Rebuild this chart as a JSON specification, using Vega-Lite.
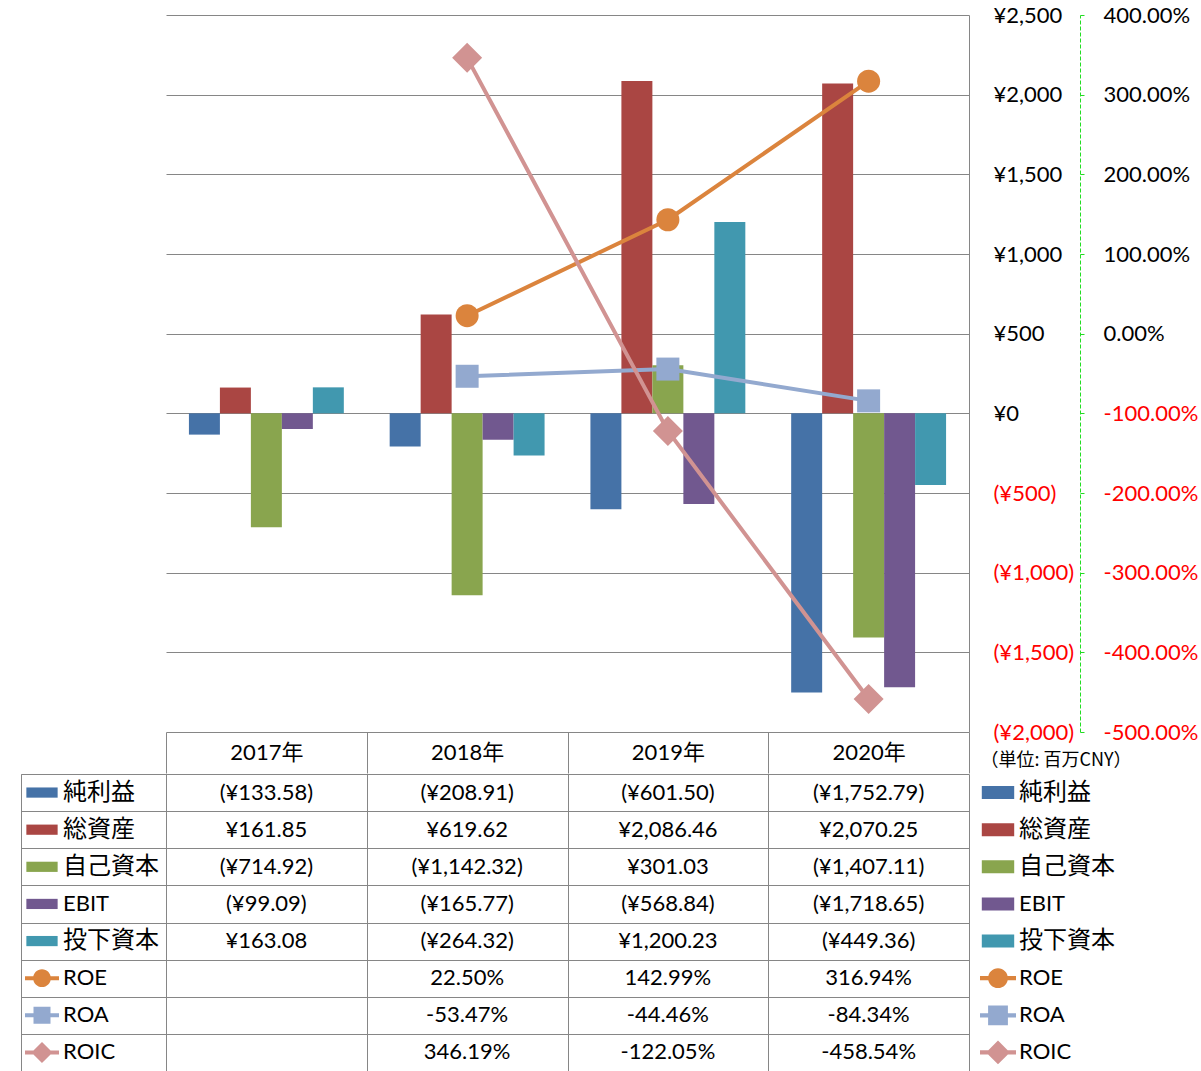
{
  "$schema": "https://vega.github.io/schema/vega-lite/v6.json",
  "padding": {"left": 20, "top": 4, "right": 0, "bottom": 0},
  "background": "white",
  "config": {"view": {"stroke": null}},
  "datasets": {
    "bars": [
      {"year": "2017年", "series": "純利益", "value": -133.58},
      {"year": "2018年", "series": "純利益", "value": -208.91},
      {"year": "2019年", "series": "純利益", "value": -601.50},
      {"year": "2020年", "series": "純利益", "value": -1752.79},
      {"year": "2017年", "series": "総資産", "value": 161.85},
      {"year": "2018年", "series": "総資産", "value": 619.62},
      {"year": "2019年", "series": "総資産", "value": 2086.46},
      {"year": "2020年", "series": "総資産", "value": 2070.25},
      {"year": "2017年", "series": "自己資本", "value": -714.92},
      {"year": "2018年", "series": "自己資本", "value": -1142.32},
      {"year": "2019年", "series": "自己資本", "value": 301.03},
      {"year": "2020年", "series": "自己資本", "value": -1407.11},
      {"year": "2017年", "series": "EBIT", "value": -99.09},
      {"year": "2018年", "series": "EBIT", "value": -165.77},
      {"year": "2019年", "series": "EBIT", "value": -568.84},
      {"year": "2020年", "series": "EBIT", "value": -1718.65},
      {"year": "2017年", "series": "投下資本", "value": 163.08},
      {"year": "2018年", "series": "投下資本", "value": -264.32},
      {"year": "2019年", "series": "投下資本", "value": 1200.23},
      {"year": "2020年", "series": "投下資本", "value": -449.36}
    ],
    "ratios": [
      {"year": "2018年", "series": "ROE", "value": 0.2250},
      {"year": "2019年", "series": "ROE", "value": 1.4299},
      {"year": "2020年", "series": "ROE", "value": 3.1694},
      {"year": "2018年", "series": "ROA", "value": -0.5347},
      {"year": "2019年", "series": "ROA", "value": -0.4446},
      {"year": "2020年", "series": "ROA", "value": -0.8434},
      {"year": "2018年", "series": "ROIC", "value": 3.4619},
      {"year": "2019年", "series": "ROIC", "value": -1.2205},
      {"year": "2020年", "series": "ROIC", "value": -4.5854}
    ],
    "series": [
      {"series": "純利益"}, {"series": "総資産"}, {"series": "自己資本"}, {"series": "EBIT"},
      {"series": "投下資本"}, {"series": "ROE"}, {"series": "ROA"}, {"series": "ROIC"}
    ]
  },
  "spacing": -2,
  "bounds": "full",
  "resolve": {"scale": {"x": "independent", "y": "independent", "shape": "independent", "size": "independent", "color": "independent"}},
  "vconcat": [
    {
      "spacing": 0,
      "bounds": "flush",
      "resolve": {"scale": {"x": "independent", "y": "independent", "shape": "independent", "size": "independent", "color": "independent"}},
      "hconcat": [
        {
          "width": 145, "height": 717,
          "data": {"values": [{"a": 1}]},
          "mark": {"type": "point", "opacity": 0},
          "encoding": {}
        },
        {
          "width": 803, "height": 717,
          "layer": [
            {
              "data": {"name": "bars"},
              "mark": {"type": "bar"},
              "encoding": {
                "x": {"field": "year", "type": "nominal",
                  "scale": {"type": "band", "domain": ["2017年", "2018年", "2019年", "2020年"], "paddingInner": 0, "paddingOuter": 0},
                  "axis": {"title": null, "orient": "bottom", "domain": false, "grid": false, "ticks": true, "tickBand": "extent", "tickSize": 41, "tickColor": "#868686", "tickWidth": 1, "labelAngle": 0, "labelPadding": -21, "labelBaseline": "middle", "labelFontSize": 22, "labelColor": "#000000", "labelFont": "Lato, 'Noto Sans CJK JP'"}},
                "xOffset": {"field": "series", "type": "nominal",
                  "scale": {"domain": ["純利益", "総資産", "自己資本", "EBIT", "投下資本"], "paddingInner": 0, "paddingOuter": 0.74}},
                "y": {"field": "value", "type": "quantitative",
                  "scale": {"domain": [-2000, 2500], "nice": false, "zero": false},
                  "axis": {"orient": "right", "title": null, "values": [-2000, -1500, -1000, -500, 0, 500, 1000, 1500, 2000, 2500],
                    "grid": true, "gridColor": "#868686", "gridWidth": 1, "ticks": false, "tickSize": 0,
                    "domain": true, "domainColor": "#868686", "domainWidth": 1,
                    "labelAlign": "left", "labelBaseline": "middle", "labelPadding": 24, "labelFontSize": 22, "labelFont": "Lato",
                    "labelExpr": "datum.value < 0 ? '(¥' + format(-datum.value, ',') + ')' : '¥' + format(datum.value, ',')",
                    "labelColor": {"condition": {"test": "datum.value < 0", "value": "#FF0000"}, "value": "#000000"},
                    "labelOverlap": false, "labelFlush": false}},
                "color": {"field": "series", "type": "nominal", "legend": null,
                  "scale": {"domain": ["純利益", "総資産", "自己資本", "EBIT", "投下資本", "ROE", "ROA", "ROIC"],
                    "range": ["#4572A7", "#AA4643", "#89A54E", "#71588F", "#4198AF", "#DB843D", "#93A9CF", "#D19392"]}}
              }
            },
            {
              "data": {"name": "ratios"},
              "encoding": {
                "x": {"field": "year", "type": "nominal",
                  "scale": {"type": "band", "domain": ["2017年", "2018年", "2019年", "2020年"], "paddingInner": 0, "paddingOuter": 0},
                  "axis": {"title": null, "orient": "bottom", "domain": false, "grid": false, "ticks": true, "tickBand": "extent", "tickSize": 41, "tickColor": "#868686", "tickWidth": 1, "labelAngle": 0, "labelPadding": -21, "labelBaseline": "middle", "labelFontSize": 22, "labelColor": "#000000", "labelFont": "Lato, 'Noto Sans CJK JP'"}},
                "y": {"field": "value", "type": "quantitative",
                  "scale": {"domain": [-5, 4], "nice": false, "zero": false},
                  "axis": {"orient": "right", "offset": 111, "title": "（単位: 百万CNY）", "titleAngle": 0, "titleAlign": "left", "titleBaseline": "middle",
                    "titleX": -100, "titleY": 745, "titleFont": "Noto Sans CJK JP", "titleFontSize": 18, "titleFontWeight": "normal", "titleColor": "#000000",
                    "values": [-5, -4, -3, -2, -1, 0, 1, 2, 3, 4], "grid": false,
                    "domain": true, "domainColor": "#22DD22", "domainDash": [4, 2], "domainWidth": 1,
                    "ticks": true, "tickSize": 4, "tickColor": "#22DD22", "tickWidth": 1,
                    "labelAlign": "left", "labelBaseline": "middle", "labelPadding": 19, "labelFontSize": 22, "labelFont": "Lato",
                    "labelExpr": "(datum.value < 0 ? '-' : '') + format(abs(datum.value), '.2%')",
                    "labelColor": {"condition": {"test": "datum.value < 0", "value": "#FF0000"}, "value": "#000000"},
                    "labelOverlap": false, "labelFlush": false}},
                "color": {"field": "series", "type": "nominal", "legend": null,
                  "scale": {"domain": ["純利益", "総資産", "自己資本", "EBIT", "投下資本", "ROE", "ROA", "ROIC"],
                    "range": ["#4572A7", "#AA4643", "#89A54E", "#71588F", "#4198AF", "#DB843D", "#93A9CF", "#D19392"]}}
              },
              "layer": [
                {"mark": {"type": "line", "strokeWidth": 4, "strokeJoin": "round"}},
                {"mark": {"type": "point", "filled": true, "opacity": 1},
                  "encoding": {
                    "shape": {"field": "series", "type": "nominal", "legend": null,
                      "scale": {"domain": ["ROE", "ROA", "ROIC"], "range": ["circle", "square", "diamond"]}},
                    "size": {"condition": {"test": "datum.series === 'ROIC'", "value": 900}, "value": 529}
                  }}
              ]
            }
          ],
          "resolve": {"scale": {"y": "independent"}}
        }
      ]
    },
    {
      "spacing": 0,
      "bounds": "flush",
      "resolve": {"scale": {"x": "independent", "y": "independent", "shape": "independent", "size": "independent", "color": "independent"}},
      "hconcat": [
        {
          "width": 145, "height": 297,
          "view": {"stroke": "#868686", "strokeWidth": 1},
          "data": {"name": "series"},
          "encoding": {
            "y": {"field": "series", "type": "nominal",
              "scale": {"type": "band", "domain": ["純利益", "総資産", "自己資本", "EBIT", "投下資本", "ROE", "ROA", "ROIC"], "paddingInner": 0, "paddingOuter": 0},
              "axis": {"title": null, "labels": false, "ticks": false, "domain": false, "grid": true, "tickBand": "extent", "gridColor": "#868686", "gridWidth": 1}}
          },
          "layer": [
            {
              "mark": {"type": "point", "filled": true, "opacity": 1},
              "encoding": {
                "x": {"datum": 21, "type": "quantitative", "scale": {"domain": [0, 145], "nice": false, "zero": false}, "axis": null},
                "shape": {"field": "series", "type": "nominal", "legend": null,
                  "scale": {"domain": ["純利益", "総資産", "自己資本", "EBIT", "投下資本", "ROE", "ROA", "ROIC"],
                    "range": ["M-0.92,-0.3H0.92V0.3H-0.92Z", "M-0.92,-0.3H0.92V0.3H-0.92Z", "M-0.92,-0.3H0.92V0.3H-0.92Z", "M-0.92,-0.3H0.92V0.3H-0.92Z", "M-0.92,-0.3H0.92V0.3H-0.92Z",
                      "M-1,-0.12H1V0.12H-1Z M0.52,0A0.52,0.52,0,1,1,-0.52,0A0.52,0.52,0,1,1,0.52,0Z",
                      "M-1,-0.12H1V0.12H-1Z M-0.5,-0.5H0.5V0.5H-0.5Z",
                      "M-1,-0.12H1V0.12H-1Z M0,-0.62L0.62,0L0,0.62L-0.62,0Z"]}},
                "color": {"field": "series", "type": "nominal", "legend": null,
                  "scale": {"domain": ["純利益", "総資産", "自己資本", "EBIT", "投下資本", "ROE", "ROA", "ROIC"],
                    "range": ["#4572A7", "#AA4643", "#89A54E", "#71588F", "#4198AF", "#DB843D", "#93A9CF", "#D19392"]}},
                "size": {"value": 1156}
              }
            },
            {
              "mark": {"type": "text", "align": "left", "baseline": "middle", "font": "Lato, 'Noto Sans CJK JP'", "color": "#000000"},
              "encoding": {
                "x": {"datum": 42, "type": "quantitative", "scale": {"domain": [0, 145], "nice": false, "zero": false}, "axis": null},
                "text": {"field": "series", "type": "nominal"},
                "size": {"condition": {"test": "datum.series === 'EBIT' || datum.series === 'ROE' || datum.series === 'ROA' || datum.series === 'ROIC'", "value": 22}, "value": 24}
              }
            }
          ]
        },
        {
          "width": 803, "height": 297,
          "encoding": {
            "x": {"field": "year", "type": "nominal",
              "scale": {"type": "band", "domain": ["2017年", "2018年", "2019年", "2020年"], "paddingInner": 0, "paddingOuter": 0},
              "axis": {"title": null, "orient": "top", "labels": false, "ticks": false, "domain": false, "grid": true, "tickBand": "extent", "gridColor": "#868686", "gridWidth": 1}},
            "y": {"field": "series", "type": "nominal",
              "scale": {"type": "band", "domain": ["純利益", "総資産", "自己資本", "EBIT", "投下資本", "ROE", "ROA", "ROIC"], "paddingInner": 0, "paddingOuter": 0},
              "axis": {"title": null, "labels": false, "ticks": false, "domain": false, "grid": true, "tickBand": "extent", "gridColor": "#868686", "gridWidth": 1}},
            "text": {"field": "label", "type": "nominal"}
          },
          "layer": [
            {
              "data": {"name": "bars"},
              "transform": [{"calculate": "(datum.value < 0 ? '(¥' : '¥') + format(abs(datum.value), ',.2f') + (datum.value < 0 ? ')' : '')", "as": "label"}],
              "mark": {"type": "text", "fontSize": 22, "font": "Lato", "color": "#000000", "align": "center", "baseline": "middle"}
            },
            {
              "data": {"name": "ratios"},
              "transform": [{"calculate": "(datum.value < 0 ? '-' : '') + format(abs(datum.value), '.2%')", "as": "label"}],
              "mark": {"type": "text", "fontSize": 22, "font": "Lato", "color": "#000000", "align": "center", "baseline": "middle"}
            }
          ]
        },
        {
          "width": 200, "height": 297,
          "data": {"name": "series"},
          "encoding": {
            "y": {"field": "series", "type": "nominal",
              "scale": {"type": "band", "domain": ["純利益", "総資産", "自己資本", "EBIT", "投下資本", "ROE", "ROA", "ROIC"], "paddingInner": 0, "paddingOuter": 0},
              "axis": null}
          },
          "layer": [
            {
              "mark": {"type": "point", "filled": true, "opacity": 1},
              "encoding": {
                "x": {"datum": 29, "type": "quantitative", "scale": {"domain": [0, 200], "nice": false, "zero": false}, "axis": null},
                "shape": {"field": "series", "type": "nominal", "legend": null,
                  "scale": {"domain": ["純利益", "総資産", "自己資本", "EBIT", "投下資本", "ROE", "ROA", "ROIC"],
                    "range": ["M-0.9,-0.36H0.9V0.36H-0.9Z", "M-0.9,-0.36H0.9V0.36H-0.9Z", "M-0.9,-0.36H0.9V0.36H-0.9Z", "M-0.9,-0.36H0.9V0.36H-0.9Z", "M-0.9,-0.36H0.9V0.36H-0.9Z",
                      "M-1,-0.12H1V0.12H-1Z M0.55,0A0.55,0.55,0,1,1,-0.55,0A0.55,0.55,0,1,1,0.55,0Z",
                      "M-1,-0.12H1V0.12H-1Z M-0.55,-0.55H0.55V0.55H-0.55Z",
                      "M-1,-0.12H1V0.12H-1Z M0,-0.66L0.66,0L0,0.66L-0.66,0Z"]}},
                "color": {"field": "series", "type": "nominal", "legend": null,
                  "scale": {"domain": ["純利益", "総資産", "自己資本", "EBIT", "投下資本", "ROE", "ROA", "ROIC"],
                    "range": ["#4572A7", "#AA4643", "#89A54E", "#71588F", "#4198AF", "#DB843D", "#93A9CF", "#D19392"]}},
                "size": {"value": 1296}
              }
            },
            {
              "mark": {"type": "text", "align": "left", "baseline": "middle", "font": "Lato, 'Noto Sans CJK JP'", "color": "#000000"},
              "encoding": {
                "x": {"datum": 50, "type": "quantitative", "scale": {"domain": [0, 200], "nice": false, "zero": false}, "axis": null},
                "text": {"field": "series", "type": "nominal"},
                "size": {"condition": {"test": "datum.series === 'EBIT' || datum.series === 'ROE' || datum.series === 'ROA' || datum.series === 'ROIC'", "value": 22}, "value": 24}
              }
            }
          ]
        }
      ]
    }
  ]
}
